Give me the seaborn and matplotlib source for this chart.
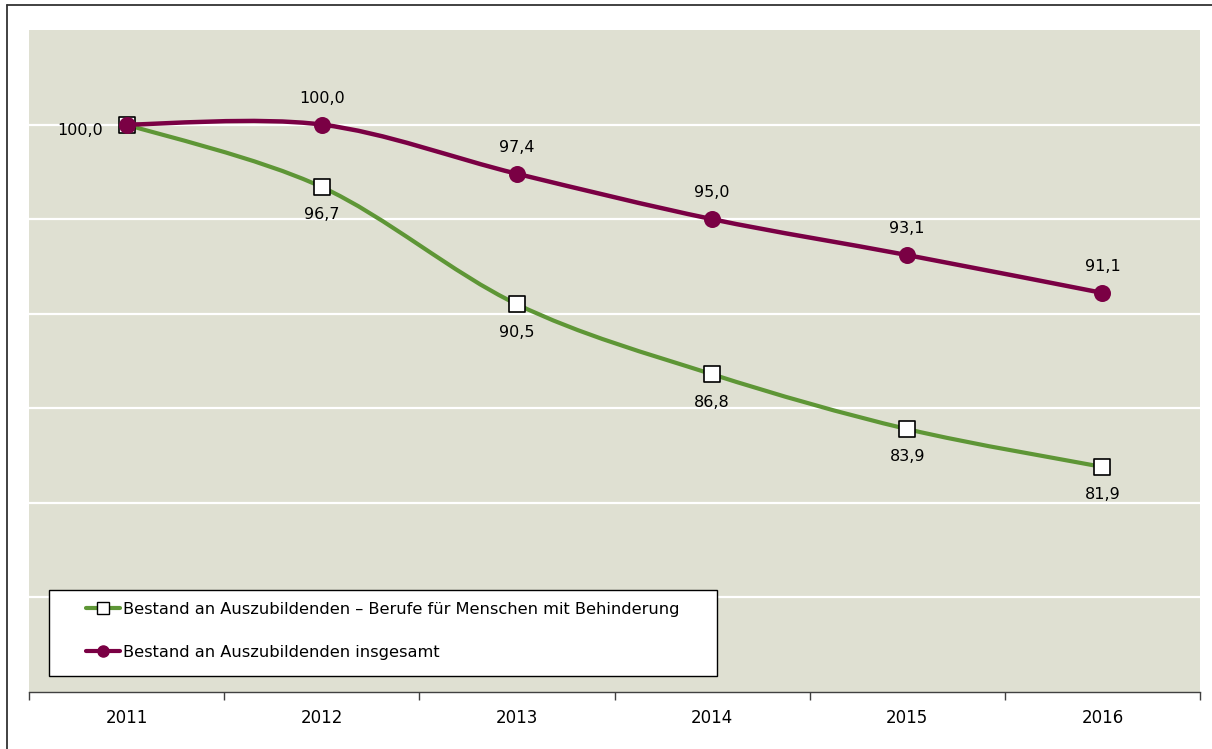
import numpy as np
import pandas as pd
import matplotlib
matplotlib.use("Agg")
import matplotlib.pyplot as plt
import seaborn as sns
from matplotlib.path import Path
from matplotlib.patches import PathPatch, Rectangle
from matplotlib.lines import Line2D

years = ["2011", "2012", "2013", "2014", "2015", "2016"]
behinderung = [100.0, 96.7, 90.5, 86.8, 83.9, 81.9]
insgesamt = [100.0, 100.0, 97.4, 95.0, 93.1, 91.1]

label_behinderung = "Bestand an Auszubildenden \u2013 Berufe f\u00fcr Menschen mit Behinderung"
label_insgesamt = "Bestand an Auszubildenden insgesamt"

green = "#5e9636"
purple = "#7a0044"
bg = "#dfe0d2"

sns.set_style("white", {"axes.facecolor": bg})
plt.rcParams["font.family"] = ["DejaVu Sans"]
plt.rcParams["text.color"] = "black"
plt.rcParams["xtick.color"] = "black"

df = pd.DataFrame({"jahr": years, "behinderung": behinderung, "insgesamt": insgesamt})
df["pos"] = np.arange(len(df))


def smooth_path(x, y):
    # excel-like smoothed line: cubic bezier segments through the points
    x = np.asarray(x, float)
    y = np.asarray(y, float)
    n = len(x)
    verts = [(x[0], y[0])]
    codes = [Path.MOVETO]
    for i in range(n - 1):
        p0 = i - 1 if i > 0 else 0
        p3 = i + 2 if i + 2 < n else n - 1
        c1 = (x[i] + (x[i + 1] - x[p0]) / 6, y[i] + (y[i + 1] - y[p0]) / 6)
        c2 = (x[i + 1] - (x[p3] - x[i]) / 6, y[i + 1] - (y[p3] - y[i]) / 6)
        verts += [c1, c2, (x[i + 1], y[i + 1])]
        codes += [Path.CURVE4] * 3
    return Path(verts, codes)


fig = plt.figure(figsize=(12.12, 7.49), dpi=100)
ax = fig.add_axes([29 / 1212, 57 / 749, 1171 / 1212, 662 / 749])

ax.set_xlim(-0.5, len(years) - 0.5)
ax.set_ylim(70, 105)

for g in [75, 80, 85, 90, 95, 100]:
    ax.axhline(g, color="white", lw=1.6, zorder=1)

ax.add_patch(PathPatch(smooth_path(df["pos"], df["behinderung"]), fill=False,
                       edgecolor=green, lw=3.0, capstyle="round", joinstyle="round", zorder=3))
sns.scatterplot(data=df, x="pos", y="behinderung", marker="s", s=125, color="white",
                edgecolor="black", linewidth=1.2, zorder=4, ax=ax)

ax.add_patch(PathPatch(smooth_path(df["pos"], df["insgesamt"]), fill=False,
                       edgecolor=purple, lw=3.2, capstyle="round", joinstyle="round", zorder=5))
sns.scatterplot(data=df, x="pos", y="insgesamt", marker="o", s=150, color=purple,
                edgecolor=purple, linewidth=0, zorder=6, ax=ax)

for i, (vb, vi) in enumerate(zip(behinderung, insgesamt)):
    if i == 0:
        ax.annotate(f"{vi:.1f}".replace(".", ","), (i, vi), xytext=(-17, -4),
                    textcoords="offset points", ha="right", va="center", fontsize=11.5)
        continue
    ax.annotate(f"{vi:.1f}".replace(".", ","), (i, vi), xytext=(0, 19),
                textcoords="offset points", ha="center", va="center", fontsize=11.5)
    ax.annotate(f"{vb:.1f}".replace(".", ","), (i, vb), xytext=(0, -20),
                textcoords="offset points", ha="center", va="center", fontsize=11.5)

ax.set_xticks(df["pos"])
ax.set_xticklabels(years, fontsize=12)
ax.set_xticks(np.arange(-0.5, len(years)), minor=True)
ax.tick_params(axis="x", which="major", bottom=False, length=0, pad=12)
ax.tick_params(axis="x", which="minor", bottom=True, length=6, width=1, color="#404040",
               direction="out")
ax.set_yticks([])
ax.set_xlabel("")
ax.set_ylabel("")
for side in ["top", "left", "right"]:
    ax.spines[side].set_visible(False)
ax.spines["bottom"].set_color("#404040")
ax.spines["bottom"].set_linewidth(1.0)

# legend box
ax.add_patch(Rectangle((20 / 1171, 16 / 662), 668 / 1171, 86 / 662, transform=ax.transAxes,
                       facecolor="white", edgecolor="black", lw=1.0, zorder=7))
handles = [
    Line2D([], [], color=green, lw=3, marker="s", markersize=8, markerfacecolor="white",
           markeredgecolor="black", markeredgewidth=1),
    Line2D([], [], color=purple, lw=3, marker="o", markersize=8, markerfacecolor=purple,
           markeredgecolor=purple),
]
leg = ax.legend(handles, [label_behinderung, label_insgesamt], loc="upper left",
                bbox_to_anchor=(57 / 1171, 90 / 662), frameon=False, fontsize=11.7,
                handlelength=2.1, handletextpad=0.15, labelspacing=1.7, borderpad=0,
                borderaxespad=0)
leg.set_zorder(8)

# outer frame lines
fig.add_artist(Line2D([7 / 1212, 1], [1 - 5 / 749, 1 - 5 / 749], color="#333333", lw=1.3))
fig.add_artist(Line2D([7 / 1212, 7 / 1212], [0, 1 - 5 / 749], color="#333333", lw=1.3))

fig.savefig("out.png", dpi=100, facecolor="white")
